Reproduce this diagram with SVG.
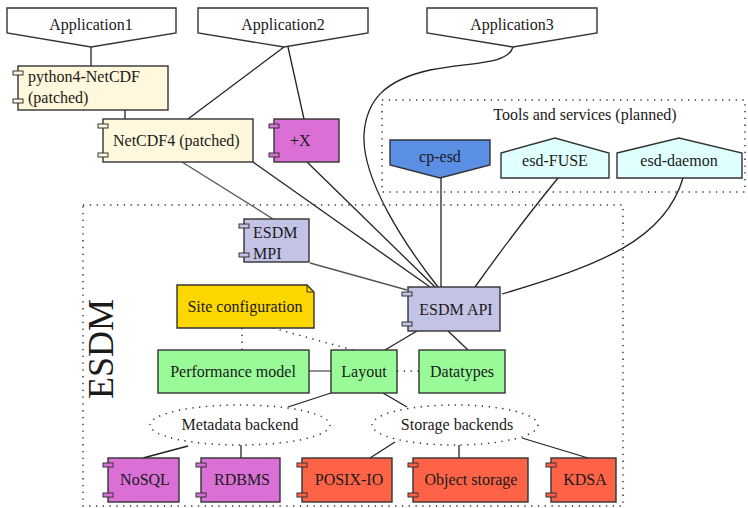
<svg xmlns="http://www.w3.org/2000/svg" width="748" height="508" viewBox="0 0 748 508">
<defs>
<style>
text{font-family:"Liberation Serif","Times New Roman",serif;font-size:16px;fill:#1a1a1a}
.c{text-anchor:middle}
.box{stroke:#333;stroke-width:1.4}
.tab{stroke:#333;stroke-width:1}
.ln{fill:none;stroke:#222;stroke-width:1.3}
.gl{fill:none;stroke:#555;stroke-width:1.3}
.dt{fill:none;stroke:#333;stroke-width:1.5;stroke-dasharray:1.3 5.5}
.app{fill:#fff}
.cream{fill:#fff8dc}
.lav{fill:#c3c3e6}
.orc{fill:#da70d6}
.tom{fill:#ff6347}
.grn{fill:#98fb98}
.cyan{fill:#e0ffff}
</style>
</defs>
<g id="clusters">
<rect class="dt" x="382" y="100" width="363" height="92"/>
<text class="c" x="585" y="120">Tools and services (planned)</text>
<rect class="dt" x="83" y="205" width="540" height="301"/>
<text class="c" transform="translate(113,349) rotate(-90)" style="font-size:36px">ESDM</text>
</g>
<g id="connectors">
<line class="ln" x1="91" y1="47" x2="91" y2="66"/>
<line class="ln" x1="125" y1="110" x2="125" y2="119"/>
<line class="ln" x1="284" y1="47" x2="188" y2="119"/>
<line class="ln" x1="288" y1="47" x2="304" y2="119"/>
<line class="gl" x1="182" y1="162" x2="273" y2="219"/>
<line class="ln" x1="253" y1="162" x2="430" y2="287"/>
<line class="ln" x1="307" y1="162" x2="435" y2="287"/>
<path class="ln" d="M513,47 C508,65 470,62 430,70 C385,80 366,100 364,135 C362,180 405,245 438,287"/>
<line class="ln" x1="441" y1="178" x2="441" y2="287"/>
<path class="ln" d="M558,178 C540,200 505,245 475,287"/>
<path class="ln" d="M683,178 C665,240 600,265 502,294"/>
<line class="gl" x1="310" y1="263" x2="407" y2="290"/>
<line class="ln" x1="417" y1="331" x2="385" y2="350"/>
<line class="ln" x1="448" y1="331" x2="468" y2="350"/>
<line class="gl" x1="309" y1="371" x2="331" y2="371"/>
<line class="dt" x1="397" y1="371" x2="419" y2="371"/>
<line class="dt" x1="242" y1="328" x2="242" y2="350"/>
<line class="dt" x1="273" y1="328" x2="353" y2="350"/>
<line class="ln" x1="331" y1="393" x2="288" y2="407"/>
<line class="ln" x1="383" y1="393" x2="407" y2="407"/>
<line class="ln" x1="188" y1="446" x2="143" y2="458"/>
<line class="ln" x1="241" y1="445" x2="241" y2="458"/>
<line class="ln" x1="395" y1="442" x2="370" y2="458"/>
<line class="ln" x1="459" y1="445" x2="459" y2="458"/>
<line class="ln" x1="522" y1="438" x2="588" y2="458"/>
</g>
<g id="application1">
<polygon class="box app" points="7,8 176,8 176,33 91,47 7,33"/>
<text class="c" x="91" y="30">Application1</text>
</g>
<g id="application2">
<polygon class="box app" points="198,8 368,8 368,33 284,47 198,33"/>
<text class="c" x="283" y="30">Application2</text>
</g>
<g id="application3">
<polygon class="box app" points="427,8 597,8 597,33 513,47 427,33"/>
<text class="c" x="512" y="30">Application3</text>
</g>
<g id="python4-netcdf">
<rect class="box cream" x="18" y="66" width="150" height="44"/>
<rect class="tab cream" x="13" y="71" width="10" height="4"/>
<rect class="tab cream" x="13" y="99" width="10" height="4"/>
<text x="28" y="82">python4-NetCDF</text>
<text x="28" y="103">(patched)</text>
</g>
<g id="netcdf4">
<rect class="box cream" x="103" y="119" width="150" height="43"/>
<rect class="tab cream" x="98" y="124" width="10" height="4"/>
<rect class="tab cream" x="98" y="153" width="10" height="4"/>
<text x="113" y="146">NetCDF4 (patched)</text>
</g>
<g id="plusx">
<rect class="box orc" x="274" y="119" width="65" height="43"/>
<rect class="tab orc" x="269" y="124" width="10" height="4"/>
<rect class="tab orc" x="269" y="153" width="10" height="4"/>
<text x="290" y="146">+X</text>
</g>
<g id="cp-esd">
<polygon class="box" style="fill:#5b8fe3" points="390,140 490,140 490,165 440,178 390,165"/>
<text class="c" x="440" y="162">cp-esd</text>
</g>
<g id="esd-fuse">
<polygon class="box cyan" points="501,153 555,138 609,153 609,178 501,178"/>
<text class="c" x="555" y="166">esd-FUSE</text>
</g>
<g id="esd-daemon">
<polygon class="box cyan" points="617,153 679,138 742,153 742,178 617,178"/>
<text class="c" x="679" y="166">esd-daemon</text>
</g>
<g id="esdm-mpi">
<rect class="box lav" x="244" y="219" width="65" height="43"/>
<rect class="tab lav" x="239" y="224" width="10" height="4"/>
<rect class="tab lav" x="239" y="253" width="10" height="4"/>
<text x="253" y="238">ESDM</text>
<text x="253" y="259">MPI</text>
</g>
<g id="esdm-api">
<rect class="box lav" x="408" y="287" width="92" height="44"/>
<rect class="tab lav" x="402" y="292" width="10" height="4"/>
<rect class="tab lav" x="402" y="322" width="10" height="4"/>
<text class="c" x="456" y="315">ESDM API</text>
</g>
<g id="site-configuration">
<polygon class="box" style="fill:#ffd700" points="177,285 307,285 314,292 314,328 177,328"/>
<polyline class="tab" style="fill:none" points="307,285 307,292 314,292"/>
<text class="c" x="245" y="312">Site configuration</text>
</g>
<g id="performance-model">
<rect class="box grn" x="158" y="350" width="151" height="43"/>
<text class="c" x="233" y="377">Performance model</text>
</g>
<g id="layout">
<rect class="box grn" x="331" y="350" width="66" height="43"/>
<text class="c" x="364" y="377">Layout</text>
</g>
<g id="datatypes">
<rect class="box grn" x="419" y="350" width="86" height="43"/>
<text class="c" x="462" y="377">Datatypes</text>
</g>
<g id="metadata-backend">
<ellipse class="dt" cx="240" cy="425" rx="90" ry="20"/>
<text class="c" x="240" y="430">Metadata backend</text>
</g>
<g id="storage-backends">
<ellipse class="dt" cx="455" cy="425" rx="83" ry="20"/>
<text class="c" x="457" y="430">Storage backends</text>
</g>
<g id="nosql">
<rect class="box orc" x="108" y="458" width="71" height="44"/>
<rect class="tab orc" x="103" y="463" width="10" height="4"/>
<rect class="tab orc" x="103" y="493" width="10" height="4"/>
<text class="c" x="145" y="485">NoSQL</text>
</g>
<g id="rdbms">
<rect class="box orc" x="201" y="458" width="79" height="44"/>
<rect class="tab orc" x="196" y="463" width="10" height="4"/>
<rect class="tab orc" x="196" y="493" width="10" height="4"/>
<text class="c" x="242" y="485">RDBMS</text>
</g>
<g id="posix-io">
<rect class="box tom" x="302" y="458" width="90" height="44"/>
<rect class="tab tom" x="297" y="463" width="10" height="4"/>
<rect class="tab tom" x="297" y="493" width="10" height="4"/>
<text class="c" x="349" y="485">POSIX-IO</text>
</g>
<g id="object-storage">
<rect class="box tom" x="413" y="458" width="115" height="44"/>
<rect class="tab tom" x="408" y="463" width="10" height="4"/>
<rect class="tab tom" x="408" y="493" width="10" height="4"/>
<text class="c" x="471" y="485">Object storage</text>
</g>
<g id="kdsa">
<rect class="box tom" x="551" y="458" width="65" height="44"/>
<rect class="tab tom" x="546" y="463" width="10" height="4"/>
<rect class="tab tom" x="546" y="493" width="10" height="4"/>
<text class="c" x="585" y="485">KDSA</text>
</g>
</svg>
